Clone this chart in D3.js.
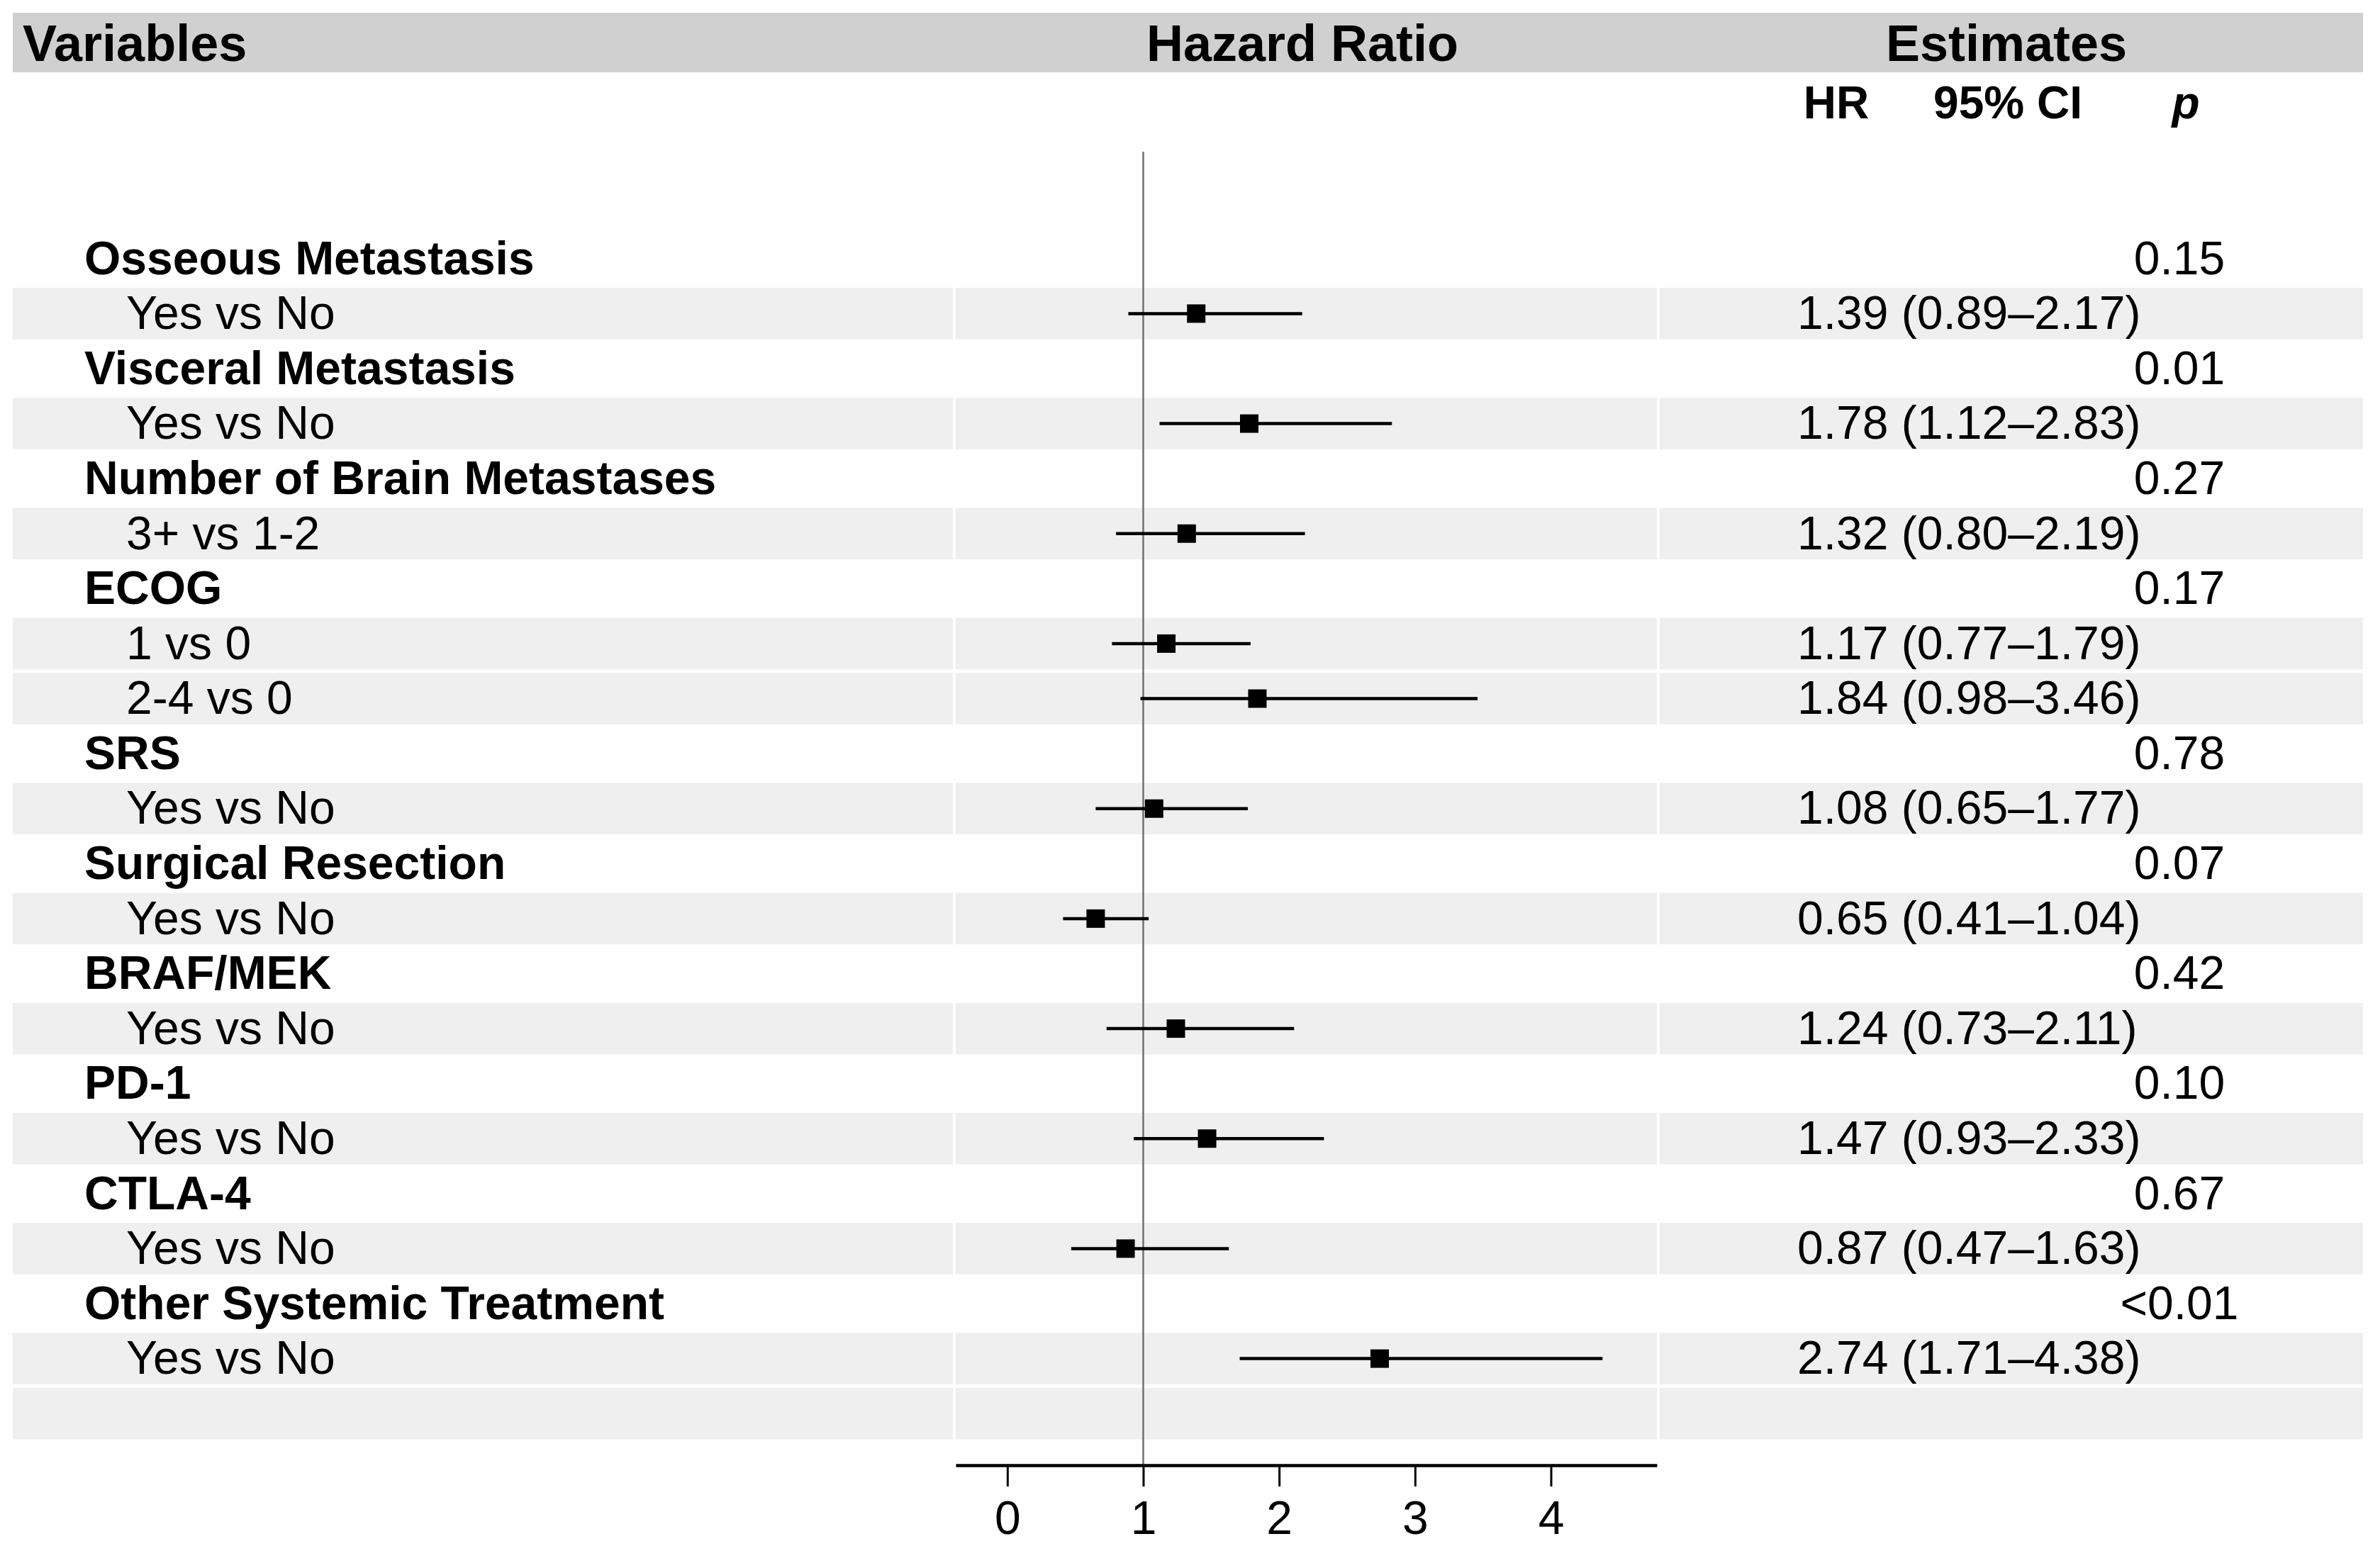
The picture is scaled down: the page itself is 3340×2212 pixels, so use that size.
<!DOCTYPE html>
<html lang="en">
<head>
<meta charset="UTF-8">
<title>Hazard Ratio forest plot</title>
<style>
  body { margin: 0; background: #fff; }
  text { font-family: "Liberation Sans", Arial, sans-serif; fill: #000; }
</style>
</head>
<body>
<div id="forest"></div>
<script src="https://d3js.org/d3.v7.min.js"></script>
<script>
// group headers with their p values
const groupLabels = ["Osseous Metastasis", "Visceral Metastasis", "Number of Brain Metastases", "ECOG",
  "SRS", "Surgical Resection", "BRAF/MEK", "PD-1", "CTLA-4", "Other Systemic Treatment"];
const groupP = ["0.15", "0.01", "0.27", "0.17", "0.78", "0.07", "0.42", "0.10", "0.67", "<0.01"];

// comparisons (sub rows), index of their group
const subLabels = ["Yes vs No", "Yes vs No", "3+ vs 1-2", "1 vs 0", "2-4 vs 0", "Yes vs No",
  "Yes vs No", "Yes vs No", "Yes vs No", "Yes vs No", "Yes vs No"];
const subGroup = [0, 1, 2, 3, 3, 4, 5, 6, 7, 8, 9];
const hr = [1.39, 1.78, 1.32, 1.17, 1.84, 1.08, 0.65, 1.24, 1.47, 0.87, 2.74];
const lo = [0.89, 1.12, 0.80, 0.77, 0.98, 0.65, 0.41, 0.73, 0.93, 0.47, 1.71];
const hi = [2.17, 2.83, 2.19, 1.79, 3.46, 1.77, 1.04, 2.11, 2.33, 1.63, 4.38];

const xTicks = [0, 1, 2, 3, 4];
const xLimits = [-0.38, 4.78];

const W = 3340, H = 2212;
const FS = 66;

// build table rows: group row then its comparisons, plus an empty row at the end
let rows = [];
groupLabels.forEach((g, gi) => {
  rows.push({ type: "group", label: g, p: groupP[gi] });
  subLabels.forEach((s, si) => {
    if (subGroup[si] === gi) rows.push({ type: "sub", label: s, hr: hr[si], lo: lo[si], hi: hi[si] });
  });
});
rows.push({ type: "blank" });
rows.forEach((r, i) => r.id = i);

// column edges
const cols = [[18, 1344], [1348, 2337], [2341, 3333]];

const svg = d3.select("#forest").append("svg")
  .attr("width", W).attr("height", H);

svg.append("rect").attr("width", W).attr("height", H).attr("fill", "#fff");

const y = d3.scaleBand()
  .domain(rows.map(d => d.id))
  .range([326, 2033])
  .padding(0);

const x = d3.scaleLinear()
  .domain(xLimits)
  .range([cols[1][0], cols[1][1]]);

// header band
svg.append("rect")
  .attr("x", 18).attr("y", 18)
  .attr("width", 3333 - 18).attr("height", 84)
  .attr("fill", "#d0d0d0");

const head = svg.append("g").attr("font-weight", "bold").attr("font-size", 72);
head.append("text").attr("x", 32).attr("y", 86).text("Variables");
head.append("text").attr("x", 1837).attr("y", 86).attr("text-anchor", "middle").text("Hazard Ratio");
head.append("text").attr("x", 2830).attr("y", 86).attr("text-anchor", "middle").text("Estimates");

const sub = svg.append("g").attr("font-weight", "bold").attr("font-size", 64).attr("text-anchor", "middle");
sub.append("text").attr("x", 2590).attr("y", 167).text("HR");
sub.append("text").attr("x", 2832).attr("y", 167).text("95% CI");
sub.append("text").attr("x", 3083).attr("y", 167).attr("font-style", "italic").text("p");

// stripes on comparison rows and the blank last row
const striped = rows.filter(d => d.type !== "group");
cols.forEach(c => {
  svg.append("g").selectAll("rect")
    .data(striped)
    .join("rect")
    .attr("x", c[0])
    .attr("width", c[1] - c[0])
    .attr("y", d => y(d.id) + 2.5)
    .attr("height", y.bandwidth() - 5)
    .attr("fill", "#efefef");
});

// left column labels
svg.append("g").selectAll("text")
  .data(rows.filter(d => d.type !== "blank"))
  .join("text")
  .attr("x", d => d.type === "group" ? 119 : 178)
  .attr("y", d => y(d.id) + y.bandwidth() / 2)
  .attr("dy", "0.33em")
  .attr("font-size", FS)
  .attr("font-weight", d => d.type === "group" ? "bold" : "normal")
  .text(d => d.label);

// estimates column
const fmt = d3.format(".2f");
svg.append("g").selectAll("text")
  .data(rows.filter(d => d.type !== "blank"))
  .join("text")
  .attr("x", d => d.type === "group" ? 3074 : 2535)
  .attr("text-anchor", d => d.type === "group" ? "middle" : "start")
  .attr("y", d => y(d.id) + y.bandwidth() / 2)
  .attr("dy", "0.33em")
  .attr("font-size", FS)
  .text(d => d.type === "group" ? d.p : fmt(d.hr) + " (" + fmt(d.lo) + "\u2013" + fmt(d.hi) + ")");

// reference line at HR = 1
svg.append("line")
  .attr("x1", x(1)).attr("x2", x(1))
  .attr("y1", 214).attr("y2", 2067)
  .attr("stroke", "#707070")
  .attr("stroke-width", 2.5);

// CIs and point estimates
const est = rows.filter(d => d.type === "sub");
svg.append("g").selectAll("line")
  .data(est)
  .join("line")
  .attr("x1", d => x(d.lo))
  .attr("x2", d => x(d.hi))
  .attr("y1", d => y(d.id) + y.bandwidth() / 2)
  .attr("y2", d => y(d.id) + y.bandwidth() / 2)
  .attr("stroke", "#000")
  .attr("stroke-width", 4.5);

const box = 26;
svg.append("g").selectAll("rect")
  .data(est)
  .join("rect")
  .attr("x", d => x(d.hr) - box / 2)
  .attr("y", d => y(d.id) + y.bandwidth() / 2 - box / 2)
  .attr("width", box)
  .attr("height", box)
  .attr("fill", "#000");

// x axis
const axis = svg.append("g")
  .attr("transform", "translate(0,2067)")
  .call(d3.axisBottom(x).tickValues(xTicks).tickFormat(d3.format("d")).tickSize(30).tickSizeOuter(0).tickPadding(20));
axis.select(".domain").attr("stroke-width", 4.5);
axis.selectAll(".tick line").attr("stroke-width", 3);
axis.selectAll(".tick text")
  .attr("font-size", FS)
  .attr("font-family", "'Liberation Sans', Arial, sans-serif")
  .attr("fill", "#000");
</script>
</body>
</html>
